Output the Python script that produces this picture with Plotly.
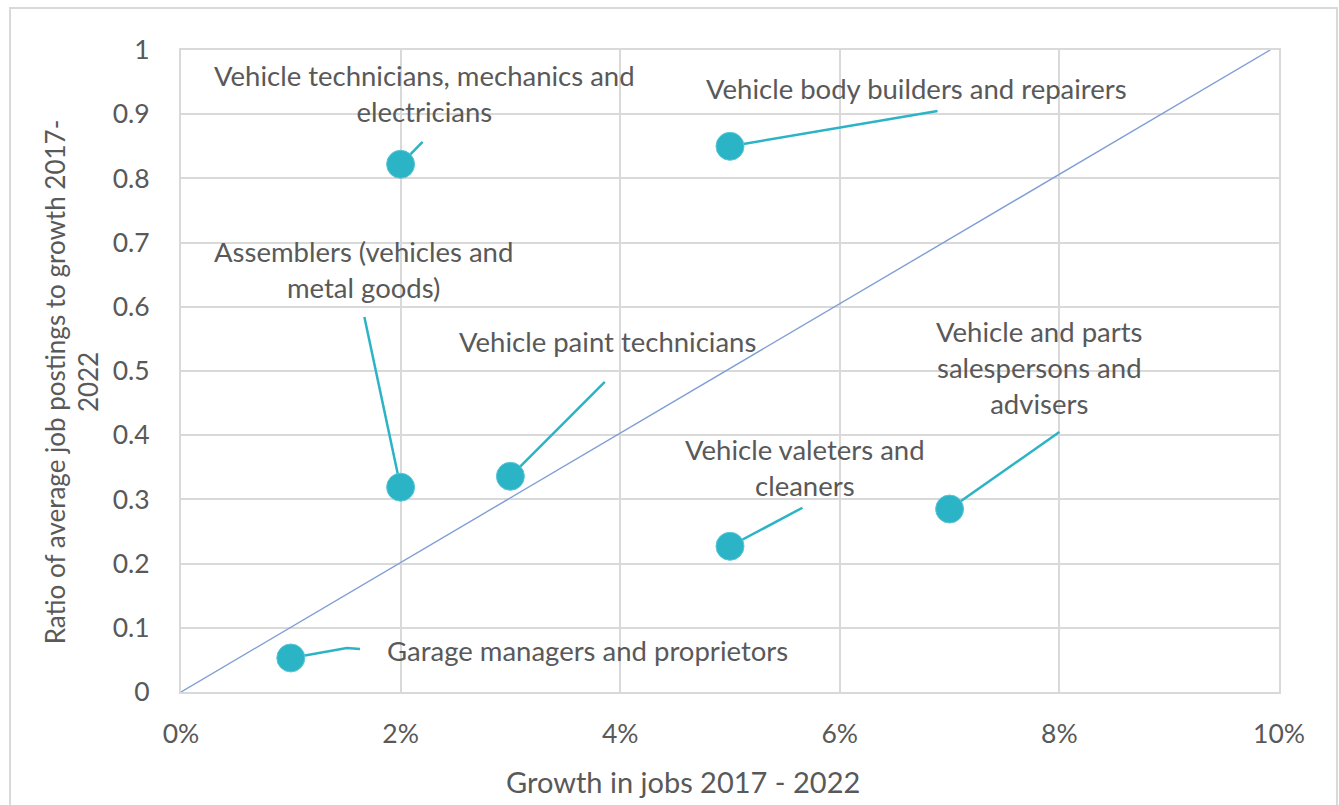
import plotly.graph_objects as go

# Occupations: growth in jobs (fraction) vs ratio of job postings to growth
occupations = [
    "Garage managers and proprietors",
    "Vehicle technicians, mechanics and<br>electricians",
    "Assemblers (vehicles and<br>metal goods)",
    "Vehicle paint technicians",
    "Vehicle body builders and repairers",
    "Vehicle valeters and<br>cleaners",
    "Vehicle and parts<br>salespersons and<br>advisers",
]
growth = [0.01, 0.02, 0.02, 0.03, 0.05, 0.05, 0.07]
ratio = [0.053, 0.822, 0.319, 0.336, 0.850, 0.227, 0.285]

# Leader line end points (near each label) and label anchor positions
leader_x = [0.0163, 0.0220, 0.0167, 0.0386, 0.0689, 0.0566, 0.0800]
leader_y = [0.067, 0.857, 0.584, 0.483, 0.905, 0.287, 0.405]
label_x = [0.0370, 0.0222, 0.0166, 0.0388, 0.0670, 0.0568, 0.0782]
label_y = [0.064, 0.933, 0.658, 0.546, 0.940, 0.350, 0.505]

# Parity reference line
parity_x = [0.0, 0.0992]
parity_y = [0.0, 1.0]

teal = "#2bb3c6"
grey_text = "#595959"
grid = "#d9d9d9"
font_family = "Lato, Carlito, 'Open Sans', sans-serif"

fig = go.Figure()

fig.add_trace(go.Scatter(
    x=parity_x, y=parity_y, mode="lines",
    line=dict(color="#7f9ed6", width=1.4),
    hoverinfo="skip", showlegend=False,
))

# Leader lines from each point toward its label
for i in range(len(growth)):
    if i == 0:
        xs = [growth[i], 0.0151, leader_x[i]]
        ys = [ratio[i], 0.0685, leader_y[i]]
    else:
        xs = [growth[i], leader_x[i]]
        ys = [ratio[i], leader_y[i]]
    fig.add_trace(go.Scatter(
        x=xs, y=ys, mode="lines",
        line=dict(color=teal, width=2.5),
        hoverinfo="skip", showlegend=False,
    ))

fig.add_trace(go.Scatter(
    x=growth, y=ratio, mode="markers",
    marker=dict(color=teal, size=28, line=dict(color="#5cc6d5", width=1)),
    text=occupations, showlegend=False,
))

for name, lx, ly in zip(occupations, label_x, label_y):
    fig.add_annotation(
        x=lx, y=ly, xref="x", yref="y", text=name, showarrow=False,
        font=dict(family=font_family, size=27.5, color=grey_text),
        align="center", xanchor="center", yanchor="middle",
    )

# Axis titles
fig.add_annotation(
    x=0.457, y=-0.139, xref="paper", yref="paper",
    text="Growth in jobs 2017 - 2022", showarrow=False,
    font=dict(family=font_family, size=29, color=grey_text),
    xanchor="center", yanchor="middle",
)
fig.add_annotation(
    x=-0.0993, y=0.484, xref="paper", yref="paper",
    text="Ratio of average job postings to growth 2017-<br>2022",
    showarrow=False, textangle=-90,
    font=dict(family=font_family, size=26, color=grey_text),
    xanchor="center", yanchor="middle",
)

# Outer chart frame
fig.add_shape(
    type="rect", xref="paper", yref="paper",
    x0=-0.1557, x1=1.0528, y0=-0.19, y1=1.0654,
    line=dict(color="#d9d9d9", width=2), layer="below",
)

axis_common = dict(
    showgrid=True, gridcolor=grid, gridwidth=1.5,
    showline=True, linecolor=grid, linewidth=2, mirror=True,
    zeroline=False, ticks="",
    tickfont=dict(family=font_family, size=26.5, color=grey_text),
)

fig.update_xaxes(
    range=[0, 0.1], dtick=0.02, tickformat=".0%",
    ticklabelstandoff=17, **axis_common,
)
fig.update_yaxes(
    range=[0, 1], dtick=0.1, tickformat="~g",
    ticklabelstandoff=24, **axis_common,
)

fig.update_layout(
    width=1339, height=805,
    margin=dict(l=181, r=60, t=50, b=113),
    paper_bgcolor="white", plot_bgcolor="white",
    showlegend=False,
    font=dict(family=font_family, color=grey_text),
)

fig.write_html("out.html")
